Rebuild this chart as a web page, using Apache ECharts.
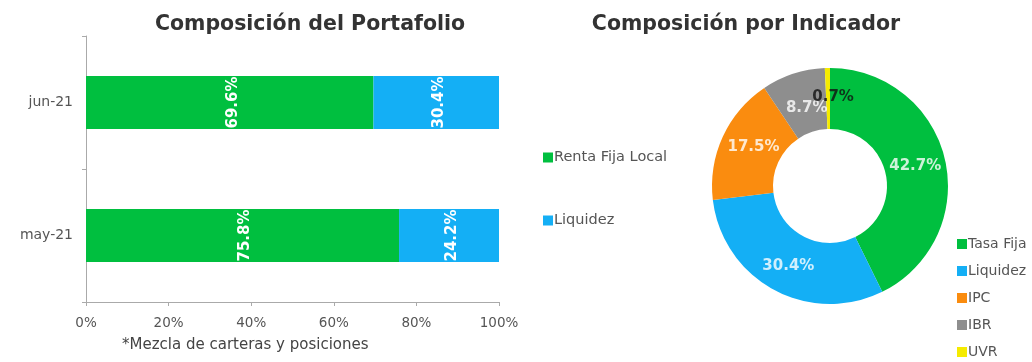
<!DOCTYPE html>
<html>
<head>
<meta charset="utf-8">
<script src="https://cdn.jsdelivr.net/npm/echarts@6/dist/echarts.min.js"></script>
<style>
  html, body { margin: 0; padding: 0; background: #ffffff; }
  #chart { width: 1032px; height: 362px; }
</style>
</head>
<body>
<div id="chart"></div>
<script>
// Portfolio composition by month (stacked to 100%)
const months = ['may-21', 'jun-21'];
const rentaFijaLocal = [75.8, 69.6];
const liquidez = [24.2, 30.4];
const xTicks = [0, 20, 40, 60, 80, 100];

// Composition by indicator (donut)
const indicatorNames = ['Tasa Fija', 'Liquidez', 'IPC', 'IBR', 'UVR'];
const indicatorValues = [42.7, 30.4, 17.5, 8.7, 0.7];

const GREEN = '#00BF3F';
const BLUE = '#14AFF5';
const ORANGE = '#FA8C0F';
const GRAY = '#8E8E8E';
const YELLOW = '#F5EB00';
const FONT = 'DejaVu Sans';

const pieColors = [GREEN, BLUE, ORANGE, GRAY, YELLOW];
const pieLabelColors = ['#fff', '#fff', '#fff', '#fff', '#111'];
// small nudges so the two narrow top slices keep readable labels
const pieLabelOffsets = [[0, 0], [0, 3], [3, -2], [4, 5], [5, -1]];

// Donut geometry
const PIE_CENTER = [830, 186];
const PIE_INNER = 57;
const PIE_OUTER = 118;

// Slice label anchors: middle of each slice (cumulative share) at mid-ring radius
const sliceLabelPoints = [];
let acc = 0;
indicatorValues.forEach((v, i) => {
  sliceLabelPoints.push({
    value: [(PIE_INNER + PIE_OUTER) / 2, acc + v / 2],
    label: { color: pieLabelColors[i], offset: pieLabelOffsets[i], formatter: v.toFixed(1) + '%' }
  });
  acc += v;
});

const chart = echarts.init(document.getElementById('chart'), null, { renderer: 'canvas' });

const barLabel = {
  show: true,
  position: 'inside',
  rotate: 90,
  offset: [0, 3],
  color: '#fff',
  fontFamily: FONT,
  fontWeight: 'bold',
  fontSize: 15,
  formatter: p => p.value.toFixed(1) + '%'
};

chart.setOption({
  animation: false,
  backgroundColor: '#ffffff',
  textStyle: { fontFamily: FONT },
  title: [
    {
      text: 'Composición del Portafolio',
      left: 305, top: 9, textAlign: 'center',
      textStyle: { fontFamily: FONT, fontWeight: 'bold', fontSize: 20.5, color: '#333' }
    },
    {
      text: 'Composición por Indicador',
      left: 741, top: 9, textAlign: 'center',
      textStyle: { fontFamily: FONT, fontWeight: 'bold', fontSize: 20.5, color: '#333' }
    }
  ],
  legend: [
    {
      data: ['Renta Fija Local', 'Liquidez'],
      orient: 'vertical',
      left: 543, top: 150, padding: 0,
      itemWidth: 10, itemHeight: 10, itemGap: 48,
      icon: 'rect',
      selectedMode: false,
      textStyle: { fontFamily: FONT, fontSize: 14.5, color: '#555', padding: [0, 0, 0, -4] }
    },
    {
      data: indicatorNames,
      orient: 'vertical',
      left: 957, top: 237, padding: 0,
      itemWidth: 10, itemHeight: 10, itemGap: 13,
      icon: 'rect',
      selectedMode: false,
      textStyle: { fontFamily: FONT, fontSize: 14, color: '#555', padding: [0, 0, 0, -4] }
    }
  ],
  grid: { left: 86, right: 533, top: 36, bottom: 60 },
  xAxis: {
    type: 'value',
    min: xTicks[0], max: xTicks[xTicks.length - 1], interval: 20,
    axisLine: { show: true, lineStyle: { color: '#aaa' } },
    axisTick: { show: true, length: 4, lineStyle: { color: '#aaa' } },
    splitLine: { show: false },
    axisLabel: { fontFamily: FONT, fontSize: 13.5, color: '#555', margin: 14, formatter: '{value}%' }
  },
  yAxis: {
    type: 'category',
    data: months,
    axisLine: { show: true, lineStyle: { color: '#aaa' } },
    axisTick: { show: true, length: 4, lineStyle: { color: '#aaa' } },
    axisLabel: { fontFamily: FONT, fontSize: 14, color: '#555', margin: 13 }
  },
  polar: { center: PIE_CENTER, radius: PIE_OUTER },
  angleAxis: {
    type: 'value', min: 0, max: 100, startAngle: 90, clockwise: true, show: false
  },
  radiusAxis: { type: 'value', min: 0, max: PIE_OUTER, show: false },
  series: [
    {
      name: 'Renta Fija Local', type: 'bar', stack: 'total',
      data: rentaFijaLocal, barWidth: '40%',
      itemStyle: { color: GREEN }, label: barLabel
    },
    {
      name: 'Liquidez', type: 'bar', stack: 'total',
      data: liquidez, barWidth: '40%',
      itemStyle: { color: BLUE }, label: barLabel
    },
    {
      name: 'Composición por Indicador', type: 'pie',
      center: PIE_CENTER, radius: [PIE_INNER, PIE_OUTER],
      startAngle: 90, clockwise: true,
      label: { show: false },
      labelLine: { show: false },
      data: indicatorNames.map((n, i) => ({
        name: n, value: indicatorValues[i],
        itemStyle: { color: pieColors[i] }
      })),
      emphasis: { disabled: true }
    },
    {
      name: 'slice-labels', type: 'scatter', coordinateSystem: 'polar',
      symbol: 'circle', symbolSize: 1, silent: true, z: 10,
      itemStyle: { color: 'transparent' },
      label: {
        show: true, position: 'inside',
        fontFamily: FONT, fontWeight: 'bold', fontSize: 15
      },
      data: sliceLabelPoints
    }
  ],
  graphic: [
    {
      type: 'text', left: 122, top: 338,
      style: { text: '*Mezcla de carteras y posiciones', fontFamily: FONT, fontSize: 15, fill: '#444' }
    }
  ]
});
</script>
</body>
</html>
